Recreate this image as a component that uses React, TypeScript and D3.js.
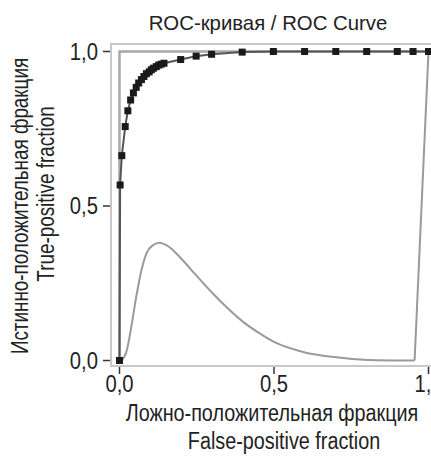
import React from "react";
import * as d3 from "d3";

const rocX = [0, 0.002, 0.0075, 0.0185, 0.027, 0.036, 0.045, 0.054, 0.062, 0.071, 0.079, 0.087, 0.096, 0.103, 0.11, 0.119, 0.127, 0.135, 0.144, 0.198, 0.248, 0.298, 0.397, 0.498, 0.599, 0.7, 0.8, 0.899, 0.95, 1.0];
const rocY = [0, 0.568, 0.663, 0.757, 0.808, 0.843, 0.866, 0.884, 0.898, 0.909, 0.919, 0.928, 0.934, 0.941, 0.946, 0.951, 0.956, 0.959, 0.962, 0.974, 0.985, 0.991, 0.998, 1.0, 1.0, 1.0, 1.0, 1.0, 1.0, 1.0];

const perfectX = [0, 0, 1];
const perfectY = [0, 1, 1];

const lowX = [0.005, 0.022, 0.038, 0.054, 0.071, 0.087, 0.108, 0.13, 0.152, 0.195, 0.238, 0.303, 0.346, 0.4, 0.45, 0.5, 0.597, 0.695, 0.803, 0.955, 1.0];
const lowY = [0, 0.027, 0.108, 0.205, 0.292, 0.346, 0.373, 0.381, 0.373, 0.335, 0.287, 0.216, 0.173, 0.125, 0.09, 0.06, 0.027, 0.011, 0.002, 0.0, 1.0];

const tickValues = [0, 0.5, 1];
const tickLabels = ["0,0", "0,5", "1,0"];

const title = "ROC-кривая / ROC Curve";
const xLabel = ["Ложно-положительная фракция", "False-positive fraction"];
const yLabel = ["Истинно-положительная фракция", "True-positive fraction"];

function T(props: { x: number; y: number; size: number; sx: number; anchor: string; rotate?: number; children: string }) {
  const { x, y, size, sx, anchor, rotate, children } = props;
  return (
    <text
      transform={`translate(${x},${y})${rotate ? ` rotate(${rotate})` : ""} scale(${sx},1)`}
      textAnchor={anchor}
      fontSize={size}
      fill="#222"
    >
      {children}
    </text>
  );
}

export default function App() {
  const W = 431, H = 471;
  const x = d3.scaleLinear().domain([0, 1]).range([119.5, 428.5]);
  const y = d3.scaleLinear().domain([0, 1]).range([360.5, 51.5]);
  const font = "'Liberation Sans', Arial, sans-serif";

  const line = d3.line<[number, number]>().x(d => x(d[0])).y(d => y(d[1]));
  const curve = d3.line<[number, number]>().x(d => x(d[0])).y(d => y(d[1])).curve(d3.curveMonotoneX);

  const roc: [number, number][] = rocX.map((v, i) => [v, rocY[i]]);
  const perfect: [number, number][] = perfectX.map((v, i) => [v, perfectY[i]]);
  const low: [number, number][] = lowX.map((v, i) => [v, lowY[i]]);
  const lowCurve = low.slice(0, low.length - 1);
  const lowTail = low.slice(low.length - 2);

  const boxL = 111, boxT = 44, boxB = 366, boxR = 437;
  const cx = (x(0) + x(1)) / 2;
  const cy = (y(0) + y(1)) / 2;

  return (
    <svg width={W} height={H} style={{ position: "absolute", left: 0, top: 0, background: "#fff" }} fontFamily={font}>
      <rect x={boxL} y={boxT} width={boxR - boxL} height={boxB - boxT} fill="none" stroke="#c8c8c8" strokeWidth={2} />
      {tickValues.map((t, i) => (
        <g key={"x" + i}>
          <line x1={x(t)} x2={x(t)} y1={boxB + 1} y2={boxB + 8} stroke="#333" strokeWidth={1.5} />
          <T x={x(t)} y={392} size={23} sx={0.88} anchor="middle">{tickLabels[i]}</T>
        </g>
      ))}
      {tickValues.map((t, i) => (
        <g key={"y" + i}>
          <line x1={boxL - 8} x2={boxL - 1} y1={y(t)} y2={y(t)} stroke="#333" strokeWidth={1.5} />
          <T x={98} y={y(t) + 8} size={23} sx={0.88} anchor="end">{tickLabels[i]}</T>
        </g>
      ))}
      <path d={line(perfect) || ""} fill="none" stroke="#a8a8a8" strokeWidth={2.5} />
      <path d={curve(lowCurve) || ""} fill="none" stroke="#9a9a9a" strokeWidth={2} />
      <path d={line(lowTail) || ""} fill="none" stroke="#9a9a9a" strokeWidth={2} />
      <path d={line(roc) || ""} fill="none" stroke="#555" strokeWidth={2} />
      {roc.map((d, i) => (
        <rect key={i} x={x(d[0]) - 3.5} y={y(d[1]) - 3.5} width={7} height={7} fill="#1a1a1a" />
      ))}
      <T x={268} y={30} size={21} sx={0.97} anchor="middle">{title}</T>
      <T x={cx - 2} y={421} size={23} sx={0.86} anchor="middle">{xLabel[0]}</T>
      <T x={cx + 10} y={449} size={23} sx={0.86} anchor="middle">{xLabel[1]}</T>
      <T x={28} y={cy} size={23} sx={0.82} anchor="middle" rotate={-90}>{yLabel[0]}</T>
      <T x={54} y={cy - 12} size={23} sx={0.82} anchor="middle" rotate={-90}>{yLabel[1]}</T>
    </svg>
  );
}
